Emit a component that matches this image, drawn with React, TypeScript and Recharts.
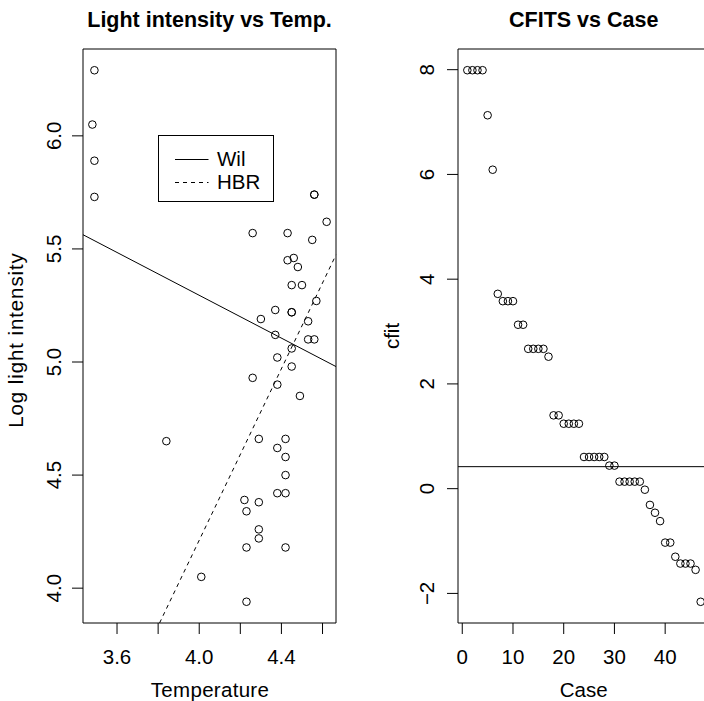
import React from 'react'
import {
  ScatterChart,
  Scatter,
  XAxis,
  YAxis,
  ReferenceLine,
  ReferenceArea,
} from 'recharts'

// star cluster data: log temperature / log light intensity
const logTemp = [
  4.37, 4.56, 4.26, 4.56, 4.30, 4.46, 3.84, 4.57, 4.26, 4.37, 3.49, 4.43, 4.48, 4.01, 4.29, 4.42,
  4.23, 4.42, 4.23, 3.49, 4.29, 4.29, 4.42, 4.49, 4.38, 4.42, 4.29, 4.38, 4.22, 3.48, 4.38, 4.56,
  4.45, 3.49, 4.23, 4.62, 4.53, 4.45, 4.53, 4.43, 4.38, 4.45, 4.50, 4.45, 4.55, 4.45, 4.42,
]
const logLight = [
  5.23, 5.74, 4.93, 5.74, 5.19, 5.46, 4.65, 5.27, 5.57, 5.12, 5.73, 5.45, 5.42, 4.05, 4.26, 4.58,
  3.94, 4.18, 4.18, 5.89, 4.38, 4.22, 4.42, 4.85, 5.02, 4.66, 4.66, 4.90, 4.39, 6.05, 4.42, 5.10,
  5.22, 6.29, 4.34, 5.62, 5.10, 5.22, 5.18, 5.57, 4.62, 5.06, 5.34, 5.34, 5.54, 4.98, 4.50,
]

// CFITS by case
const cfit = [
  7.99, 7.99, 7.99, 7.99, 7.13, 6.09, 3.72, 3.58, 3.58, 3.58, 3.13, 3.13, 2.67, 2.67, 2.67, 2.67,
  2.52, 1.40, 1.40, 1.24, 1.24, 1.24, 1.24, 0.605, 0.605, 0.605, 0.605, 0.605, 0.44, 0.44, 0.134,
  0.134, 0.134, 0.134, 0.134, -0.02, -0.31, -0.46, -0.62, -1.03, -1.03, -1.30, -1.43, -1.43, -1.43,
  -1.55, -2.16,
]
const cfitCutoff = 0.42

// fitted lines: [intercept, slope]
const fitNames = ['Wil', 'HBR']
const wilCoef = [7.189, -0.4735]
const hbrCoef = [-3.372, 1.896]

const tempDomain = [3.4344, 4.6656]
const lightDomain = [3.846, 6.384]
const caseDomain = [-0.84, 48.84]
const cfitDomain = [-2.565, 8.395]

const tempTicks = [3.6, 3.8, 4.0, 4.2, 4.4, 4.6]
const tempTickLabels = ['3.6', '', '4.0', '', '4.4', '']
const lightTicks = [4.0, 4.5, 5.0, 5.5, 6.0]
const lightTickLabels = ['4.0', '4.5', '5.0', '5.5', '6.0']
const caseTicks = [0, 10, 20, 30, 40]
const caseTickLabels = ['0', '10', '20', '30', '40']
const cfitTicks = [-2, 0, 2, 4, 6, 8]
const cfitTickLabels = ['\u22122', '0', '2', '4', '6', '8']

const stars = logTemp.map((t, i) => ({ temp: t, light: logLight[i] }))
const cases = cfit.map((v, i) => ({ case: i + 1, cfit: v }))

const FONT = '"Liberation Sans", Arial, Helvetica, sans-serif'
const TOP = 49
const BOTTOM = 623
const TICK_LEN = 11

// clip y = a + b x to the plotting window
const clipFit = (coef: number[]) => {
  const [a, b] = coef
  const lo = lightDomain[0]
  const hi = lightDomain[1]
  const clampX = (x: number) => {
    const y = a + b * x
    if (y < lo) return (lo - a) / b
    if (y > hi) return (hi - a) / b
    return x
  }
  const x0 = clampX(tempDomain[0])
  const x1 = clampX(tempDomain[1])
  return [
    { x: x0, y: a + b * x0 },
    { x: x1, y: a + b * x1 },
  ]
}

const OpenCircle = (p: any) => (
  <circle cx={p.cx} cy={p.cy} r={3.8} fill="none" stroke="#000" strokeWidth={1} />
)

const makeXTick = (ticks: number[], labels: string[]) => (props: any) => {
  const { x, payload } = props
  const i = ticks.indexOf(payload.value)
  return (
    <g>
      <line x1={x} x2={x} y1={BOTTOM} y2={BOTTOM + TICK_LEN} stroke="#000" />
      {labels[i] ? (
        <text x={x} y={664} textAnchor="middle" fontSize={20.5} fontFamily={FONT} fill="#000">
          {labels[i]}
        </text>
      ) : null}
    </g>
  )
}

const makeYTick = (ticks: number[], labels: string[], axisX: number, baseX: number) => (props: any) => {
  const { y, payload } = props
  const i = ticks.indexOf(payload.value)
  return (
    <g>
      <line x1={axisX - TICK_LEN} x2={axisX} y1={y} y2={y} stroke="#000" />
      <text
        x={baseX}
        y={y}
        transform={`rotate(-90 ${baseX} ${y})`}
        textAnchor="middle"
        fontSize={20.5}
        fontFamily={FONT}
        fill="#000"
      >
        {labels[i]}
      </text>
    </g>
  )
}

const LightVsTemp = () => (
  <ScatterChart width={352} height={701} margin={{ top: TOP, right: 16, bottom: 0, left: 0 }}>
    <XAxis
      type="number"
      dataKey="temp"
      domain={tempDomain}
      ticks={tempTicks}
      interval={0}
      allowDataOverflow
      height={78}
      axisLine={false}
      tickLine={false}
      tick={makeXTick(tempTicks, tempTickLabels)}
    />
    <YAxis
      type="number"
      dataKey="light"
      domain={lightDomain}
      ticks={lightTicks}
      interval={0}
      allowDataOverflow
      width={83}
      axisLine={false}
      tickLine={false}
      tick={makeYTick(lightTicks, lightTickLabels, 83, 61.5)}
    />
    <ReferenceArea
      x1={tempDomain[0]}
      x2={tempDomain[1]}
      y1={lightDomain[0]}
      y2={lightDomain[1]}
      fill="none"
      stroke="#000"
      strokeWidth={1}
      ifOverflow="visible"
    />
    <ReferenceLine segment={clipFit(wilCoef)} stroke="#000" strokeWidth={1} ifOverflow="visible" />
    <ReferenceLine
      segment={clipFit(hbrCoef)}
      stroke="#000"
      strokeWidth={1}
      strokeDasharray="4 4"
      ifOverflow="visible"
    />
    <Scatter data={stars} shape={<OpenCircle />} isAnimationActive={false} />
  </ScatterChart>
)

const CfitVsCase = () => (
  <ScatterChart width={370} height={701} margin={{ top: TOP, right: 12, bottom: 0, left: 0 }}>
    <XAxis
      type="number"
      dataKey="case"
      domain={caseDomain}
      ticks={caseTicks}
      interval={0}
      allowDataOverflow
      height={78}
      axisLine={false}
      tickLine={false}
      tick={makeXTick(caseTicks, caseTickLabels)}
    />
    <YAxis
      type="number"
      dataKey="cfit"
      domain={cfitDomain}
      ticks={cfitTicks}
      interval={0}
      allowDataOverflow
      width={106}
      axisLine={false}
      tickLine={false}
      tick={makeYTick(cfitTicks, cfitTickLabels, 106, 82)}
    />
    <ReferenceArea
      x1={caseDomain[0]}
      x2={caseDomain[1]}
      y1={cfitDomain[0]}
      y2={cfitDomain[1]}
      fill="none"
      stroke="#000"
      strokeWidth={1}
      ifOverflow="visible"
    />
    <ReferenceLine y={cfitCutoff} stroke="#000" strokeWidth={1} />
    <Scatter data={cases} shape={<OpenCircle />} isAnimationActive={false} />
  </ScatterChart>
)

export default function App() {
  return (
    <div
      style={{
        position: 'fixed',
        left: 0,
        top: 0,
        width: 704,
        height: 701,
        overflow: 'hidden',
        background: '#fff',
      }}
    >
      <div style={{ position: 'absolute', left: 0, top: 0 }}>
        <LightVsTemp />
      </div>
      <div style={{ position: 'absolute', left: 352, top: 0 }}>
        <CfitVsCase />
      </div>
      {/* titles, axis labels and legend */}
      <svg
        width={704}
        height={701}
        style={{ position: 'absolute', left: 0, top: 0, pointerEvents: 'none' }}
        fontFamily={FONT}
      >
        <text x={209.5} y={27} textAnchor="middle" fontSize={21.5} fontWeight="bold">
          Light intensity vs Temp.
        </text>
        <text x={583.7} y={27} textAnchor="middle" fontSize={21.5} fontWeight="bold">
          CFITS vs Case
        </text>
        <text x={210} y={697} textAnchor="middle" fontSize={20.5} letterSpacing={0.3}>
          Temperature
        </text>
        <text x={583.7} y={697} textAnchor="middle" fontSize={20.5}>
          Case
        </text>
        <text
          x={22.5}
          y={340}
          transform="rotate(-90 22.5 340)"
          textAnchor="middle"
          fontSize={20.5}
          letterSpacing={0.9}
        >
          Log light intensity
        </text>
        <text x={399} y={336} transform="rotate(-90 399 336)" textAnchor="middle" fontSize={20.5}>
          cfit
        </text>
        <rect x={158.5} y={135.5} width={115} height={66} fill="#fff" stroke="#000" />
        {fitNames.map((name, i) => (
          <g key={name}>
            <line
              x1={175}
              x2={208.5}
              y1={159.5 + i * 23}
              y2={159.5 + i * 23}
              stroke="#000"
              strokeDasharray={i === 1 ? '4 4' : undefined}
            />
            <text x={217} y={165.5 + i * 23} fontSize={20.5}>
              {name}
            </text>
          </g>
        ))}
      </svg>
    </div>
  )
}
